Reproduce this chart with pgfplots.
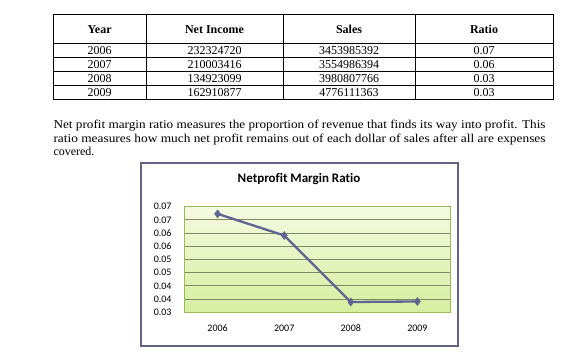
\documentclass[border=0pt]{standalone}
\usepackage{pgfplots}
\pgfplotsset{compat=1.18}
\usepackage{graphicx}
\usepackage{fontspec}
\setmainfont{Liberation Serif}
\newfontfamily\calfont[Ligatures=NoCommon]{Carlito}
\definecolor{lineC}{RGB}{95,100,145}
\definecolor{boxC}{RGB}{100,100,130}
\definecolor{gridC}{RGB}{128,138,100}
\definecolor{plotB}{RGB}{155,187,89}
\definecolor{bgTop}{RGB}{244,250,224}
\definecolor{bgBot}{RGB}{214,238,160}
\begin{document}
\begin{tikzpicture}
\path[use as bounding box] (0pt,0pt) rectangle (567pt,-359pt);
\fill[white] (0pt,0pt) rectangle (567pt,-359pt);
\begin{scope}[x=1pt,y=-1pt]
% table
\draw[black,line width=0.9pt] (53.3,14) rectangle (553,99.3);
\foreach \yy in {43.3,57.3,71.3,85.3} {\draw[black,line width=0.9pt] (53.3,\yy) -- (553,\yy);}
\foreach \xx in {146,283,415} {\draw[black,line width=0.9pt] (\xx,14) -- (\xx,99.3);}
\begin{scope}[every node/.style={font=\fontsize{12}{14}\selectfont, inner sep=0pt, anchor=base}]
\node at (99.6,33.3) {\bfseries Year};
\node at (214.5,33.3) {\bfseries Net Income};
\node at (349,33.3) {\bfseries Sales};
\node at (484,33.3) {\bfseries Ratio};
\node at (99.6,54.3) {2006}; \node at (214.5,54.3) {232324720}; \node at (349,54.3) {3453985392}; \node at (484,54.3) {0.07};
\node at (99.6,68.3) {2007}; \node at (214.5,68.3) {210003416}; \node at (349,68.3) {3554986394}; \node at (484,68.3) {0.06};
\node at (99.6,82.3) {2008}; \node at (214.5,82.3) {134923099}; \node at (349,82.3) {3980807766}; \node at (484,82.3) {0.03};
\node at (99.6,96.3) {2009}; \node at (214.5,96.3) {162910877}; \node at (349,96.3) {4776111363}; \node at (484,96.3) {0.03};
\end{scope}
% paragraph
\begin{scope}[every node/.style={font=\fontsize{12}{14}\selectfont, inner sep=0pt, anchor=base west}]
\node at (53.3,128) {\resizebox{492pt}{\height}{Net profit margin ratio measures the proportion of revenue that finds its way into profit. This}};
\node at (53.3,142) {\resizebox{492pt}{\height}{ratio measures how much net profit remains out of each dollar of sales after all are expenses}};
\node at (53.3,155.5) {covered.};
\end{scope}
% chart frame
\draw[boxC,line width=2pt] (141,162.7) rectangle (457.7,345.7);
\node[anchor=base,inner sep=0pt,font=\calfont\bfseries\fontsize{13}{15}\selectfont] at (299,182) {Netprofit Margin Ratio};
\end{scope}
\begin{axis}[
  at={(184.3pt,-312.3pt)}, anchor=south west,
  scale only axis, width=266.4pt, height=105.6pt,
  xmin=-0.5, xmax=3.5, ymin=0.03, ymax=0.07,
  scaled y ticks=false,
  xtick={0,1,2,3}, xticklabels={2006,2007,2008,2009},
  ytick={0.03,0.035,0.04,0.045,0.05,0.055,0.06,0.065,0.07},
  yticklabels={0.03,0.04,0.04,0.05,0.05,0.06,0.06,0.07,0.07},
  major tick length=0pt,
  ymajorgrids, grid style={draw=gridC, line width=0.9pt},
  axis line style={draw=plotB, line width=1pt},
  axis background/.style={top color=bgTop, bottom color=bgBot},
  tick label style={font=\calfont\fontsize{10}{11}\selectfont, inner sep=0pt},
  yticklabel style={anchor=east, xshift=-12.6pt, text height=6.5pt, text depth=0pt},
  xticklabel style={anchor=base, yshift=-19pt},
  clip=false,
]
\addplot[color=lineC, line width=2.3pt, mark=diamond*, mark size=4pt, mark options={fill=lineC, draw=lineC, line width=0.5pt}]
  coordinates {(0,0.0673) (1,0.0591) (2,0.0339) (3,0.0341)};
\end{axis}
\end{tikzpicture}
\end{document}
